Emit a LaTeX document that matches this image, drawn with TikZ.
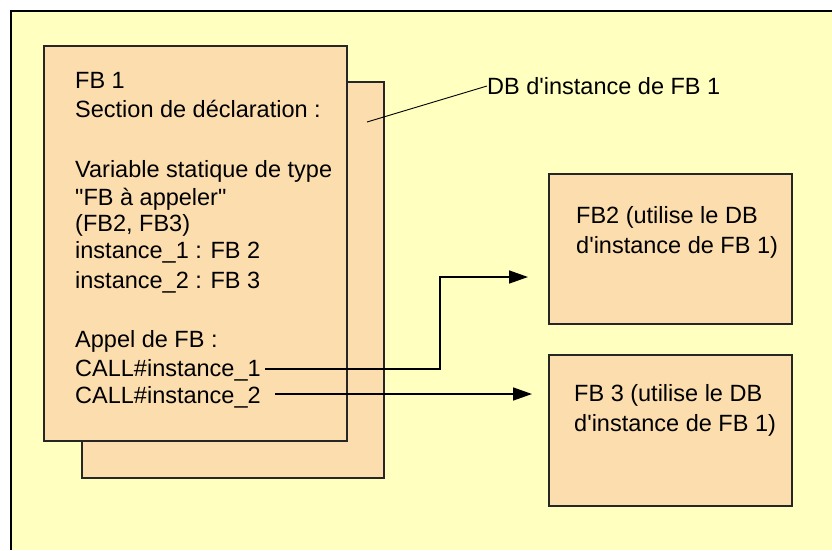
\documentclass[tikz,border=0pt]{standalone}
\usepackage{fontspec}
\newfontfamily\arialf{Liberation Sans}
\usetikzlibrary{arrows.meta}
\definecolor{bgyellow}{HTML}{FFFFC0}
\definecolor{peach}{HTML}{FCDDAE}
\begin{document}
\begin{tikzpicture}[x=1pt,y=-1pt,
  box/.style={draw=black!85, line width=1.5pt, fill=peach, anchor=north west, inner sep=0pt},
  txt/.style={anchor=base west, inner sep=0pt, font=\arialf\fontsize{23.5}{28}\selectfont},
  conn/.style={line width=1.5pt, -{Triangle[length=19pt,width=13pt]}},
  leader/.style={line width=0.9pt}]
\useasboundingbox (0,0) rectangle (832,550);
% outer area
\fill[bgyellow] (11,11) rectangle (832,550);
\draw[line width=1.6pt] (11,550) -- (11,11) -- (832,11);
% DB box (back) and FB1 box (front)
\node[box, minimum width=302pt, minimum height=396pt] (db) at (81,81) {};
\node[box, minimum width=303pt, minimum height=395pt] (fb1) at (43,45) {};
% FB2 and FB3 boxes
\node[box, minimum width=243pt, minimum height=150pt] (fb2) at (548,173) {};
\node[box, minimum width=243pt, minimum height=151pt] (fb3) at (548,354) {};
% FB1 text
\node[txt] (t1) at (75,88) {FB 1};
\node[txt] (t2) at (75,117) {Section de déclaration :};
\node[txt] (t3) at (75,177) {Variable statique de type};
\node[txt] (t4) at (75,205) {"FB à appeler"};
\node[txt] (t5) at (75,231) {(FB2, FB3)};
\node[txt] (t6) at (75,258) {instance\_1 : FB 2};
\node[txt] (t7) at (75,288) {instance\_2 : FB 3};
\node[txt] (t8) at (75,347) {Appel de FB :};
\node[txt] (c1) at (75,376) {CALL\#instance\_1};
\node[txt] (c2) at (75,403) {CALL\#instance\_2};
% FB2 / FB3 text
\node[txt] (f2a) at (576,223) {FB2 (utilise le DB};
\node[txt] (f2b) at (576,253) {d'instance de FB 1)};
\node[txt] (f3a) at (574,401) {FB 3 (utilise le DB};
\node[txt] (f3b) at (574,431) {d'instance de FB 1)};
% DB label
\node[txt, anchor=west] (dbl) at (487,86) {DB d'instance de FB 1};
\coordinate (dbp) at (367,122);
\draw[leader] (dbp) -- (dbl.west);
% connectors
\coordinate (s1) at (265,369);
\coordinate (k1) at (440,369);
\coordinate (e1) at (528,277);
\coordinate (s2) at (275,394);
\coordinate (e2) at (532,394);
\draw[conn] (s1) -- (k1) |- (e1);
\draw[conn] (s2) -- (e2);
\end{tikzpicture}
\end{document}
